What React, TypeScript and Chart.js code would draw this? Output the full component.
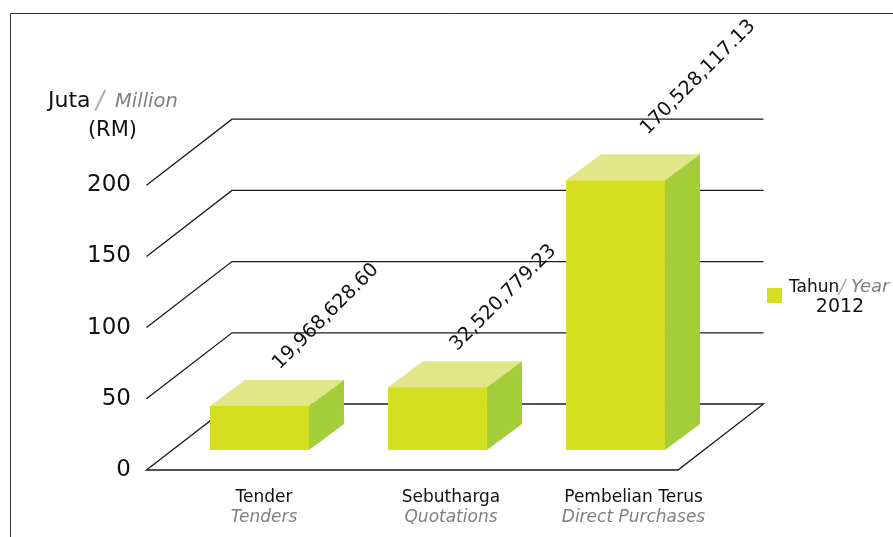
import React, { useEffect, useRef } from "react";
import { Chart, registerables } from "chart.js";

Chart.register(...registerables);

const categories = ["Tender", "Sebutharga", "Pembelian Terus"];
const categoriesEn = ["Tenders", "Quotations", "Direct Purchases"];
const values = [19968628.6, 32520779.23, 170528117.13];
const valueLabels = ["19,968,628.60", "32,520,779.23", "170,528,117.13"];
const yTicks = [0, 50, 100, 150, 200];

const FRONT = "#D5DF22";
const TOP = "#E1E688";
const SIDE = "#A3CE39";
const GREY = "#808080";
const INK = "#111111";
const FONT = "'DejaVu Sans'";

const WALL_DX = 85.5;
const WALL_DY = -66;
const BAR_DX = 35;
const BAR_DY = -26;
const FLOOR_SHIFT = -24;

const labelShift = [
  [20, -36],
  [19.5, -36],
  [32, -45],
];
const catShift = [4.5, 13.5, 18];

function text(ctx: CanvasRenderingContext2D, s: string, x: number, y: number, font: string, color: string, align: CanvasTextAlign = "left") {
  ctx.font = font;
  ctx.fillStyle = color;
  ctx.textAlign = align;
  ctx.textBaseline = "alphabetic";
  ctx.fillText(s, x, y);
}

const scenePlugin = {
  id: "scene",
  beforeDatasetsDraw(chart: any) {
    const { ctx, scales, chartArea } = chart;
    const y = scales.y;
    const left = chartArea.left + FLOOR_SHIFT;
    const right = chartArea.right + FLOOR_SHIFT - 2.5;
    ctx.save();
    ctx.strokeStyle = "#1a1a1a";
    ctx.lineWidth = 1.3;
    for (const v of yTicks) {
      const py = y.getPixelForValue(v);
      ctx.beginPath();
      ctx.moveTo(left, py);
      ctx.lineTo(left + WALL_DX, py + WALL_DY);
      ctx.lineTo(right + WALL_DX, py + WALL_DY);
      if (v === 0) {
        ctx.lineTo(right, py);
        ctx.closePath();
      }
      ctx.stroke();
    }
    const bars = chart.getDatasetMeta(0).data;
    bars.forEach((b: any) => {
      const l = b.x - b.width / 2;
      const r = b.x + b.width / 2;
      const t = b.y;
      const bt = b.base;
      ctx.fillStyle = TOP;
      ctx.beginPath();
      ctx.moveTo(l, t);
      ctx.lineTo(l + BAR_DX, t + BAR_DY);
      ctx.lineTo(r + BAR_DX, t + BAR_DY);
      ctx.lineTo(r, t);
      ctx.closePath();
      ctx.fill();
      ctx.fillStyle = SIDE;
      ctx.beginPath();
      ctx.moveTo(r, t);
      ctx.lineTo(r + BAR_DX, t + BAR_DY);
      ctx.lineTo(r + BAR_DX, bt + BAR_DY);
      ctx.lineTo(r, bt);
      ctx.closePath();
      ctx.fill();
    });
    ctx.restore();
  },
  afterDraw(chart: any) {
    const { ctx, scales } = chart;
    const bars = chart.getDatasetMeta(0).data;
    ctx.save();
    // frame
    ctx.strokeStyle = "#333333";
    ctx.lineWidth = 1;
    ctx.beginPath();
    ctx.moveTo(10.5, 537);
    ctx.lineTo(10.5, 13.5);
    ctx.lineTo(893, 13.5);
    ctx.stroke();
    // value labels
    bars.forEach((b: any, i: number) => {
      ctx.save();
      ctx.translate(b.x + labelShift[i][0], b.y + labelShift[i][1]);
      ctx.rotate((-45 * Math.PI) / 180);
      text(ctx, valueLabels[i], 0, 0, `19.3px ${FONT}`, INK);
      ctx.restore();
    });
    // category labels
    categories.forEach((c, i) => {
      const x = scales.x.getPixelForTick(i) + catShift[i];
      text(ctx, c, x, 502, `17px ${FONT}`, INK, "center");
      text(ctx, categoriesEn[i], x, 522, `italic 17px ${FONT}`, GREY, "center");
    });
    // axis title
    text(ctx, "Juta", 48, 107, `22px ${FONT}`, INK);
    text(ctx, "/", 96, 108, `italic 24px ${FONT}`, "#aaaaaa");
    text(ctx, "Million", 115, 107, `italic 19.5px ${FONT}`, GREY);
    text(ctx, "(RM)", 137, 136, `21px ${FONT}`, INK, "right");
    // legend
    ctx.fillStyle = FRONT;
    ctx.fillRect(767, 288, 15, 15);
    text(ctx, "Tahun", 789, 292, `17px ${FONT}`, INK);
    text(ctx, "/", 839, 293, `italic 19px ${FONT}`, "#aaaaaa");
    text(ctx, "Year", 851, 292, `italic 18px ${FONT}`, GREY);
    text(ctx, "2012", 840, 312, `19px ${FONT}`, INK, "center");
    ctx.restore();
  },
};

export default function App() {
  const ref = useRef<HTMLCanvasElement>(null);
  useEffect(() => {
    const chart = new Chart(ref.current!, {
      type: "bar",
      plugins: [scenePlugin],
      data: {
        labels: categories,
        datasets: [
          {
            label: "Tahun/Year 2012",
            data: values,
            base: -9330000,
            yAxisID: "y2",
            backgroundColor: FRONT,
            borderWidth: 0,
            categoryPercentage: 1,
            barPercentage: 0.556,
          } as any,
        ],
      },
      options: {
        responsive: false,
        animation: false,
        layout: { padding: { top: 114, bottom: 67, left: 0, right: 188.5 } },
        plugins: { legend: { display: false }, tooltip: { enabled: false } },
        scales: {
          x: {
            afterFit: (s: any) => {
              s.height = 0;
            },
            grid: { display: false, drawTicks: false },
            border: { display: false },
            ticks: { display: false },
          },
          y: {
            min: 0,
            max: 250,
            afterFit: (s: any) => {
              s.width = 170.5;
            },
            afterBuildTicks: (s: any) => {
              s.ticks = yTicks.map((value) => ({ value }));
            },
            grid: { display: false, drawTicks: false },
            border: { display: false },
            ticks: {
              padding: 39.5,
              color: INK,
              font: { family: FONT, size: 23 },
            },
          },
          y2: {
            display: false,
            min: -22670000,
            max: 214670000,
          },
        },
      },
    } as any);
    return () => chart.destroy();
  }, []);
  return (
    <canvas
      ref={ref}
      width={893}
      height={537}
      style={{ position: "fixed", left: 0, top: 0, display: "block" }}
    />
  );
}
